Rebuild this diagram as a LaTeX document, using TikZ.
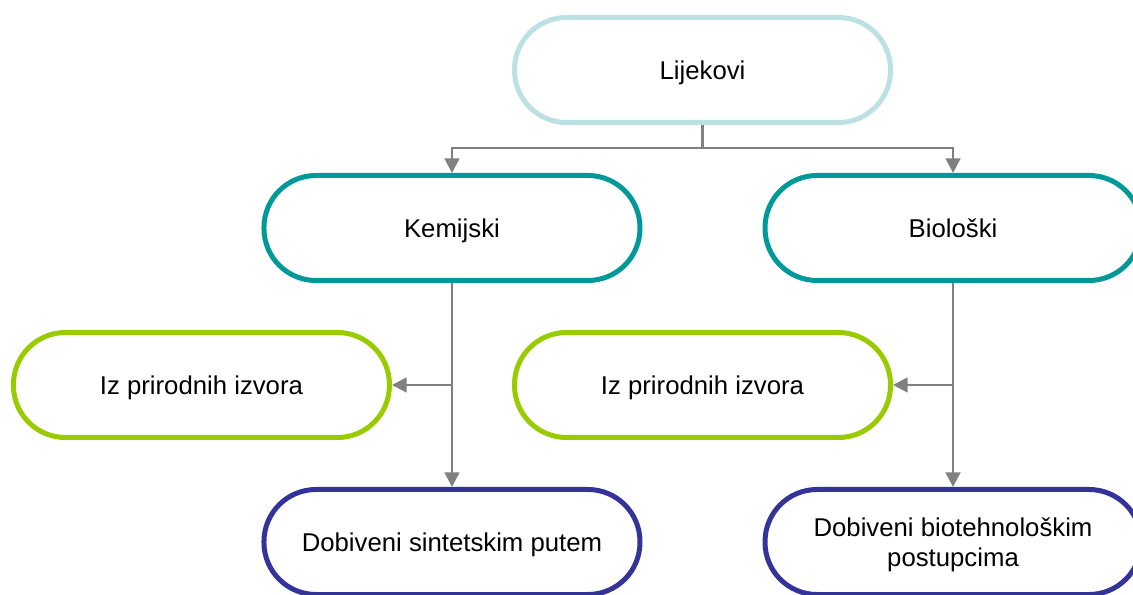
\documentclass[tikz,border=0pt]{standalone}
\usepackage{fontspec}
\setmainfont{Liberation Sans}
\usepackage{xcolor}
\usepackage{tikz}
\usetikzlibrary{arrows.meta,positioning,calc}

\definecolor{topblue}{RGB}{189,224,228}
\definecolor{kindteal}{RGB}{0,153,153}
\definecolor{srcgreen}{RGB}{153,204,0}
\definecolor{madenavy}{RGB}{51,51,153}
\definecolor{linkgray}{RGB}{128,128,128}

\begin{document}
\begin{tikzpicture}[x=0.75pt, y=-0.75pt, font=\fontsize{19.3}{22.5}\selectfont]
    \tikzstyle{pill} = [rectangle, draw, fill=white, line width=3.75pt, rounded corners=39pt, minimum width=282pt, minimum height=78.75pt, align=center, inner sep=0pt, text depth=0pt]
    \tikzstyle{top} = [pill, draw=topblue]
    \tikzstyle{kind} = [pill, draw=kindteal]
    \tikzstyle{source} = [pill, draw=srcgreen]
    \tikzstyle{made} = [pill, draw=madenavy]
    \tikzstyle{line} = [draw, linkgray, line width=2pt, -{Triangle[length=11pt,width=11pt]}]

    \useasboundingbox (0,0) rectangle (1133,595);

    \node [top] (lijek) at (702.5,70) {Lijekovi};
    \node [kind, below of=lijek, node distance=118.5pt, xshift=-187.9pt] (kem) {Kemijski};
    \node [kind, below of=lijek, node distance=118.5pt, xshift=187.9pt] (bio) {Biološki};

    \node [source, below of=kem, node distance=117.75pt, xshift=-187.9pt] (izvkem) {Iz prirodnih izvora};
    \node [source, below of=kem, node distance=117.75pt, xshift=187.9pt] (izvbio) {Iz prirodnih izvora};

    \node [made, below of=kem, node distance=235.5pt] (sint) {Dobiveni sintetskim putem};
    \node [made, below of=bio, node distance=235.5pt] (biotech) {Dobiveni biotehnološkim\\postupcima};

    \path [line] (lijek.south) -- ++(0,-17.25pt) -| (kem.north);
    \path [line] (lijek.south) -- ++(0,-17.25pt) -| (bio.north);
    \path [line] (kem.south) -- (sint.north);
    \path [line] (kem.south |- izvkem.east) -- (izvkem.east);
    \path [line] (bio.south) -- (biotech.north);
    \path [line] (bio.south |- izvbio.east) -- (izvbio.east);
\end{tikzpicture}
\end{document}
